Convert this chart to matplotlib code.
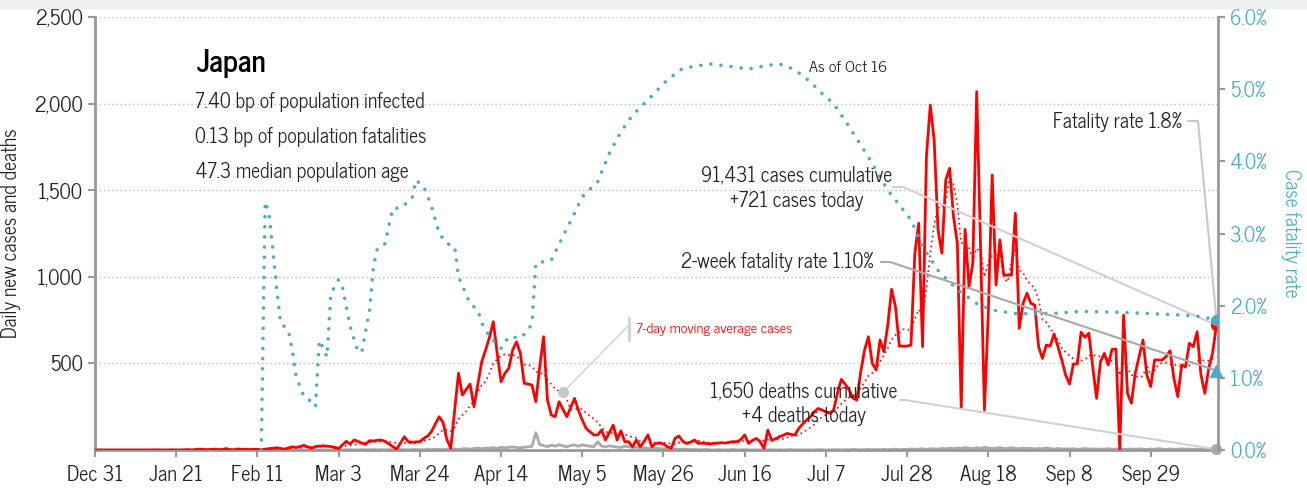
import matplotlib
matplotlib.use('Agg')
import matplotlib.pyplot as plt
from matplotlib import font_manager
from matplotlib.patches import Rectangle
import numpy as np
import pandas as pd

# Data (Japan, Dec 31 2019 - Oct 16 2020)
START = '2019-12-31'

cases = (
    [0] * 16
    + [1, 0, 0, 0, 1, 0, 0, 1, 2, 0, 3, 5, 4, 2]
    + [3, 5, 2, 4, 8, 1, 2, 6, 3, 5, 2, 4]
    + [3, 2, 5, 8, 10, 13, 9, 5, 12, 18, 15, 20, 27, 18, 10, 20, 22, 24, 22, 20,
       14, 8, 30, 50, 35, 58, 50, 40, 33, 54, 52, 56, 58, 50, 35, 20, 5, 40, 77, 48,
       45, 47, 48, 67, 80, 106, 150, 192, 160, 60]
    + [10, 230, 443, 317, 350, 381, 250, 380, 510, 577, 650, 741, 558, 394, 443,
       472, 577, 625, 558, 385, 381, 375, 279, 480, 654, 289, 202, 192, 279, 235,
       192, 245, 298, 230, 173, 125, 105, 87, 87]
    + [115, 58, 100, 144, 58, 111, 48, 48, 19, 58, 19, 50, 87, 19, 38, 40, 35, 19,
       10, 67, 81, 50, 38, 45, 58, 38, 40, 38, 35, 38, 40, 42, 40, 45, 48, 48, 60,
       87, 38, 55, 67, 48, 10, 115, 55, 65, 77, 85, 96, 90, 87, 125]
    + [150, 173, 192, 220, 240, 231, 220, 212, 231, 330, 408, 380, 346, 300, 289,
       450, 577, 654, 500, 462, 635, 568, 722, 928, 827]
    + [600, 600, 600, 606, 1136, 1309, 597, 1694, 1992, 1790, 1270, 1136, 1559,
       1627, 1347, 1193, 240, 1274, 943, 1078, 2069, 1174, 231, 789, 1588, 953,
       1213, 1010, 1010, 1010]
    + [1367, 703, 847, 905, 847, 837, 597, 529, 606, 600, 670, 597, 520, 433, 381,
       497, 497, 680, 651, 674, 481, 298, 510, 558, 491, 581, 583, 0, 779, 327,
       270, 443, 539, 635, 433, 366, 520, 520, 520, 540, 573, 414, 308, 491, 481,
       616, 597, 683, 433, 327, 472, 560, 721]
)

deaths = (
    [0] * 55
    + [1, 0, 1, 0, 1, 1, 0, 2, 1, 0, 1, 2, 1, 0, 2, 1, 1, 3, 0, 2, 1, 2, 1, 0, 3,
       2, 1, 2, 3, 1, 2, 3, 2, 4, 3, 2]
    + [5, 4, 6, 3, 7, 8, 5, 9, 11, 7, 12, 10, 14, 9, 16, 12, 15, 18, 14, 13, 16, 19, 21]
    + [100]
    + [32, 25, 19, 28, 22, 31, 24, 18, 26, 29, 21, 30, 25, 22, 19, 48, 22, 18, 24,
       20, 17, 15, 22, 19, 14, 16, 12, 13, 10, 9, 11, 8, 7, 9, 6, 5]
    + [4, 3, 5, 2, 3, 1, 2, 3, 1, 0, 2, 1, 0, 1, 3, 0, 1, 2, 0, 1, 0, 1, 0, 2, 1,
       0, 1, 0, 1, 2, 0, 1, 0, 1, 0, 1, 2, 1, 0, 1, 2, 1, 0, 2, 1, 3, 2, 1, 2, 3]
    + [2, 3, 1, 4, 2, 3, 5, 2, 4, 3, 6, 4, 5, 7, 3, 8, 6, 5, 9, 7, 10, 8, 12, 9, 14,
       11, 8, 13, 10, 15, 12, 9, 11, 14, 8, 10, 13, 9, 7, 11, 8, 10, 6, 9, 7, 12, 8,
       5, 9, 6, 7, 5, 8, 4, 6, 9, 5, 7, 4, 6, 5, 8, 4, 6, 7, 3, 5, 6, 4, 7, 5, 3, 6,
       4, 8, 5, 3, 6, 4, 5, 7, 4, 6, 3, 5, 4, 6, 3, 5, 4]
)

# case fatality rate (%), sampled at day offsets from START
cfr_day = [43, 44, 45, 46, 47, 48, 50, 51, 52, 54, 56, 57, 58, 59, 60, 61, 63, 64,
           66, 68, 69, 71, 72, 73, 75, 77, 79, 81, 82, 83, 85, 87, 89, 91, 93, 94,
           97, 99, 100, 102, 105, 107, 110, 112, 113, 114, 118, 121, 124, 126, 130,
           133, 136, 139, 143, 148, 152, 159, 165, 169, 174, 177, 181, 185, 188,
           191, 195, 200, 205, 211, 214, 218, 223, 228, 232, 238, 247, 255, 264,
           273, 281, 286, 290]
cfr_pct = [0.0, 3.44, 3.28, 2.77, 2.22, 1.76, 1.66, 1.39, 1.02, 0.74, 0.67, 0.60,
           1.52, 1.41, 1.29, 2.17, 2.36, 2.26, 1.71, 1.36, 1.36, 1.94, 2.54, 2.79,
           2.86, 3.35, 3.35, 3.44, 3.49, 3.74, 3.65, 3.38, 3.00, 2.86, 2.82, 2.40,
           2.03, 1.94, 1.76, 1.57, 1.41, 1.57, 1.55, 1.66, 1.76, 2.59, 2.63, 2.96,
           3.28, 3.51, 3.72, 4.11, 4.41, 4.64, 4.85, 5.13, 5.29, 5.35, 5.31, 5.28,
           5.33, 5.35, 5.27, 5.10, 4.94, 4.80, 4.48, 4.06, 3.60, 3.19, 2.82, 2.49,
           2.22, 2.03, 1.94, 1.89, 1.89, 1.92, 1.91, 1.89, 1.87, 1.85, 1.80]

country = 'Japan'
info_lines = ['7.40 bp of population infected',
              '0.13 bp of population fatalities',
              '47.3 median population age']
total_cases = 91431
total_deaths = 1650
fatality_rate = 1.8
two_week_rate = 1.10
ma_label_day = 121

assert len(cases) == len(deaths) == 291

RED = '#ff0000'
TEAL = '#4bacc6'
GRAY = '#aaaaaa'
AXIS = '#999999'
TXT = '#222222'

names = {f.name for f in font_manager.fontManager.ttflist}
FONT = 'DejaVu Sans'
for cand in ['News Cycle', 'Archivo Narrow', 'Roboto Condensed', 'PT Sans Narrow',
             'Fira Sans Condensed', 'IBM Plex Sans Condensed']:
    if cand in names:
        FONT = cand
        break
plt.rcParams['font.family'] = [FONT, 'DejaVu Sans']

W, H = 1307, 491
dates = pd.date_range(START, periods=len(cases), freq='D')
start = pd.Timestamp(START)
s_cases = pd.Series(cases, index=dates)
ma7 = s_cases.rolling(7, min_periods=1).mean()
cfr_dates = start + pd.to_timedelta(cfr_day, unit='D')

fig = plt.figure(figsize=(W / 100, H / 100), dpi=100)
fig.patches.append(Rectangle((0, 1 - 8 / H), 1, 8 / H, transform=fig.transFigure,
                             color='#efefef', zorder=0))
renderer = fig.canvas.get_renderer()


def fit(t, target):
    # scale a text so its drawn width matches the reference width in pixels
    w = t.get_window_extent(renderer).width
    t.set_fontsize(t.get_fontsize() * target / w)
    return t.get_fontsize()


def fx(x, y):
    return x / W, 1 - y / H


# text block (sized first so ticks can follow the same size)
t = fig.text(*fx(196, 72), country, fontsize=24, fontweight='bold', color='black', va='baseline')
fit(t, 70)
info = []
for i, line in enumerate(info_lines):
    info.append(fig.text(*fx(195, 108 + 35 * i), line, fontsize=15, color=TXT, va='baseline'))
FS = fit(info[0], 230)
for t in info[1:]:
    t.set_fontsize(FS)

t = fig.text(*fx(809, 72), 'As of Oct 16', fontsize=12, color=TXT, va='baseline')
fit(t, 78)
fig.text(*fx(1182, 128), f'Fatality rate {fatality_rate}%', fontsize=FS, color=TXT,
         va='baseline', ha='right')
fig.text(*fx(797, 182), f'{total_cases:,} cases cumulative', fontsize=FS, color=TXT,
         va='baseline', ha='center')
fig.text(*fx(797, 207), f'+{cases[-1]:,} cases today', fontsize=FS, color=TXT,
         va='baseline', ha='center')
fig.text(*fx(874, 268), f'2-week fatality rate {two_week_rate:.2f}%', fontsize=FS,
         color=TXT, va='baseline', ha='right')
fig.text(*fx(804, 397), f'{total_deaths:,} deaths cumulative', fontsize=FS, color=TXT,
         va='baseline', ha='center')
fig.text(*fx(804, 422), f'+{deaths[-1]} deaths today', fontsize=FS, color=TXT,
         va='baseline', ha='center')
t = fig.text(*fx(636, 333), '7-day moving average cases', fontsize=12, color=RED,
             va='baseline')
fit(t, 156)

ax = fig.add_axes([95 / W, 41 / H, (1218 - 95) / W, (450 - 17) / H])
ax2 = ax.twinx()

# grid + axes
ax.set_ylim(0, 2500)
ax.set_yticks([500, 1000, 1500, 2000, 2500])
ax.set_yticklabels([f'{v:,}' for v in [500, 1000, 1500, 2000, 2500]])
ax.yaxis.grid(True, linestyle=(0, (1, 2)), color='#bbbbbb', linewidth=1)
ax.set_axisbelow(True)
ax.set_xlim(start, start + pd.Timedelta(days=290.4))
xt = [start + pd.Timedelta(days=21 * i) for i in range(14)]
ax.set_xticks(xt)
ax.set_xticklabels([f'{d:%b} {d.day}' for d in xt])

for a in (ax, ax2):
    for s in a.spines.values():
        s.set_visible(False)
ax.spines['left'].set_visible(True)
ax.spines['bottom'].set_visible(True)
ax2.spines['right'].set_visible(True)
for s in (ax.spines['left'], ax.spines['bottom'], ax2.spines['right']):
    s.set_color(AXIS)
    s.set_linewidth(2)

ax.tick_params(axis='both', colors=AXIS, labelcolor=TXT, labelsize=FS * 1.04, length=5, width=1.5)
ax.tick_params(axis='x', pad=6)
ax2.tick_params(axis='y', colors=AXIS, labelcolor=TEAL, labelsize=FS * 1.04, length=5, width=1.5)
ax.set_ylabel('Daily new cases and deaths', fontsize=FS, color=TXT, labelpad=10)

ax2.set_ylim(0, 6)
ax2.set_yticks(np.arange(0, 6.5, 1))
ax2.set_yticklabels([f'{v:.1f}%' for v in np.arange(0, 6.5, 1)])
ax2.set_ylabel('Case fatality rate', fontsize=FS, color=TEAL, rotation=270, labelpad=24)

# series
ax.plot(dates, deaths, color=GRAY, lw=2, zorder=2)
ax.plot(dates, cases, color=RED, lw=2, zorder=3)
ax.plot(dates, ma7, color=RED, lw=1.2, ls=(0, (1, 2)), zorder=3)
ax2.plot(cfr_dates, cfr_pct, color=TEAL, lw=2.6, ls=(0, (0.01, 2.8)),
         dash_capstyle='round', zorder=3)

# end markers
ax.plot(dates[-1], cases[-1], 'o', color=RED, ms=7, zorder=5)
ax.plot(dates[-1], deaths[-1], 'o', color=GRAY, ms=7, zorder=5, clip_on=False)
ax2.plot(cfr_dates[-1], cfr_pct[-1], 'o', color=TEAL, ms=7, zorder=6)
ax2.plot(dates[-1], two_week_rate, '^', color=TEAL, ms=8, zorder=6, clip_on=False)


# connectors
def connect(axis, xy, start_px, color, arm=10):
    axis.annotate('', xy=xy, xycoords='data',
                  xytext=(start_px[0], H - start_px[1]), textcoords='figure pixels',
                  arrowprops=dict(arrowstyle='-', color=color, lw=1.5,
                                  shrinkA=0, shrinkB=0,
                                  connectionstyle=f'arc,angleA=0,armA={arm},angleB=0,armB=0,rad=0'),
                  annotation_clip=False, zorder=4)


connect(ax2, (dates[-1], cfr_pct[-1]), (1188, 121), '#c8c8c8')
connect(ax, (dates[-1], cases[-1]), (893, 187), '#d0d0d0')
connect(ax2, (dates[-1], two_week_rate), (881, 262), '#a8a8a8', arm=9)
connect(ax, (dates[-1], deaths[-1]), (900, 400), '#d0d0d0', arm=5)

ma_date = dates[ma_label_day]
ax.plot(ma_date, ma7.iloc[ma_label_day], 'o', color='#c8c8c8', ms=7, zorder=5)
ax.annotate('', xy=(ma_date, ma7.iloc[ma_label_day]), xycoords='data',
            xytext=(629, H - 325), textcoords='figure pixels',
            arrowprops=dict(arrowstyle='-', color='#d0d0d0', lw=1, shrinkA=0, shrinkB=0),
            annotation_clip=False)
fig.add_artist(plt.Line2D([629 / W, 629 / W], [1 - 318 / H, 1 - 340 / H],
                          color='#d0d0d0', lw=2, transform=fig.transFigure))

fig.savefig('out.png', dpi=100)
plt.close(fig)
